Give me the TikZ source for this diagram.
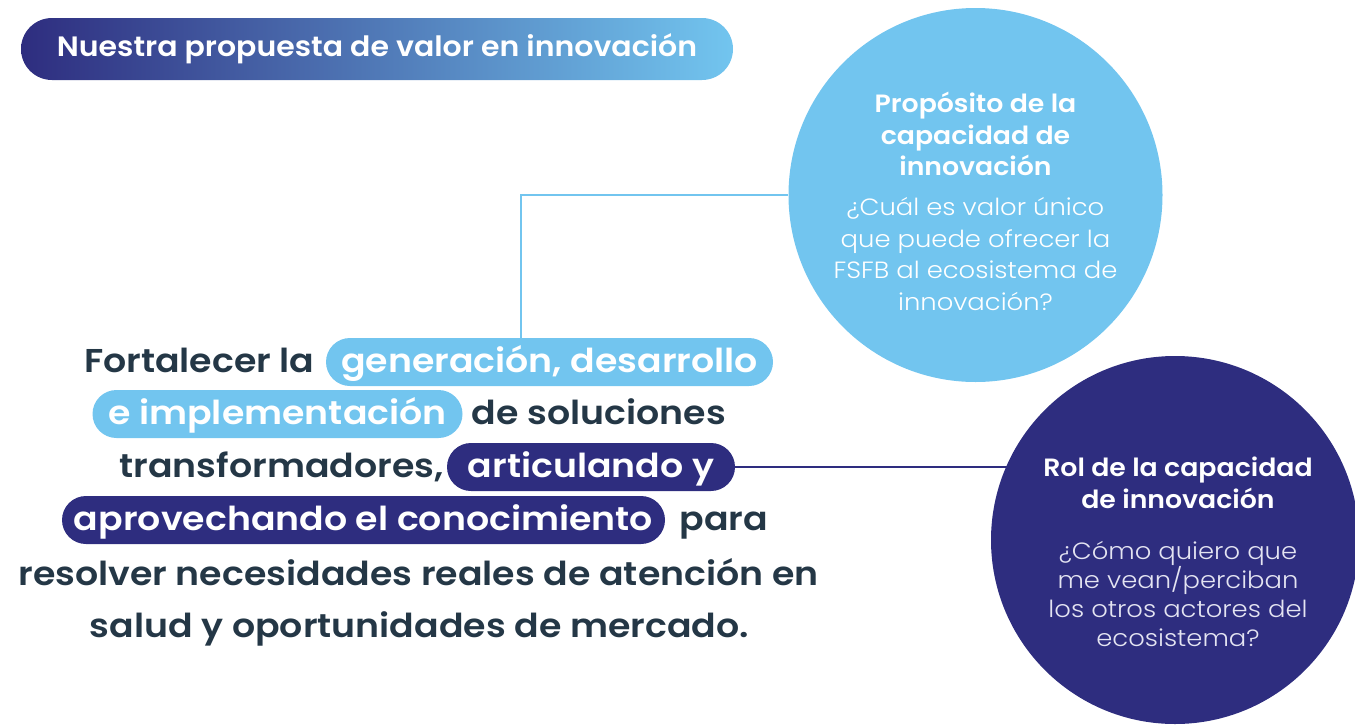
\documentclass[tikz,border=0pt]{standalone}
\usepackage{fontspec}
\setmainfont{Poppins}
\newfontfamily\medf{Poppins SemiBold}[FakeStretch=1.1]
\newfontfamily\semif{Poppins SemiBold}[FakeStretch=1.07]
\newfontfamily\lightf{Poppins Light}[FakeStretch=1.1]
\usetikzlibrary{backgrounds}
\definecolor{navy}{HTML}{2E2D7F}
\definecolor{sky}{HTML}{72C5EF}
\definecolor{ink}{HTML}{243746}
\definecolor{paleq}{HTML}{E4E4F2}
\tikzset{
  pill/.style={rounded corners=24pt, minimum height=48pt, inner sep=0pt, text=white,
    text height=26pt, text depth=6pt, font=\medf\fontsize{33}{40}\selectfont},
  lightpill/.style={pill, fill=sky},
  darkpill/.style={pill, fill=navy},
  plain/.style={inner sep=0pt, text=ink, font=\medf\fontsize{33}{40}\selectfont},
  headtxt/.style={align=center, text=white, font=\semif\fontsize{25}{31.5}\selectfont},
  qtxt/.style={align=center, font=\lightf\fontsize{23.5}{31.5}\selectfont}
}
\begin{document}
\begin{tikzpicture}[x=1pt,y=-1pt]
\useasboundingbox (0,0) rectangle (1355,726);
% title pill
\node[left color=navy, right color=sky, rounded corners=31pt, minimum width=712pt,
  minimum height=62pt, inner sep=0pt, text=white, font=\semif\fontsize{28}{30}\selectfont]
  (title) at (377,49) {Nuestra propuesta de valor en innovación};
% circles
\node[circle, fill=sky, minimum size=374pt, inner sep=0pt] (c1) at (975.5,195) {};
\node[circle, fill=navy, minimum size=368pt, inner sep=0pt] (c2) at (1175,540) {};
\node[headtxt] (h1) at (975.5,134) {Propósito de la\\capacidad de\\innovación};
\node[qtxt, text=white] (q1) at (975.5,254) {¿Cuál es valor único\\que puede ofrecer la\\FSFB al ecosistema de\\innovación?};
\node[headtxt] (h2) at (1178,483) {Rol de la capacidad\\de innovación};
\node[qtxt, text=paleq, font=\lightf\fontsize{23.5}{29}\selectfont] (q2) at (1178,594) {¿Cómo quiero que\\me vean/perciban\\los otros actores del\\ecosistema?};
% main statement
\node[lightpill, minimum width=447pt] (p1) at (549.5,362) {generación, desarrollo};
\node[lightpill, minimum width=370pt] (p2) at (277.5,414) {e implementación};
\node[darkpill, minimum width=288pt] (p3) at (591,467) {articulando y};
\node[darkpill, minimum width=603pt] (p4) at (363.5,520) {aprovechando el conocimiento};
\node[plain, anchor=base east] (t1) at ([xshift=-11pt]p1.base west) {Fortalecer la};
\node[plain, anchor=base west] (t2) at ([xshift=9pt]p2.base east) {de soluciones};
\node[plain, anchor=base east] (t3) at ([xshift=-3pt]p3.base west) {transformadores,};
\node[plain, anchor=base west] (t4) at ([xshift=14pt]p4.base east) {para};
\node[plain, anchor=base] (t5) at (418.5,585) {resolver necesidades reales de atención en};
\node[plain, anchor=base] (t6) at (419.5,637) {salud y oportunidades de mercado.};
% connectors
\begin{scope}[on background layer]
\draw[sky, line width=2.2pt] ([xshift=-28.5pt]p1.north) |- (c1.west);
\draw[navy, line width=2.5pt] (p3.east) -- ([xshift=30pt]p3.east -| c2.west);
\end{scope}
\end{tikzpicture}
\end{document}
